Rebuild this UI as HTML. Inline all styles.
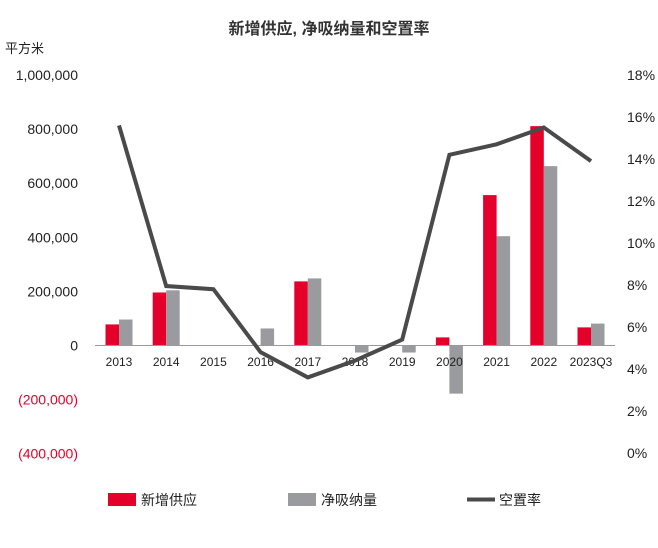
<!DOCTYPE html>
<html><head><meta charset="utf-8"><style>
body{margin:0;background:#fff;}
svg{display:block;font-family:"Liberation Sans","Noto Sans CJK SC",sans-serif;}
</style></head><body>
<svg id="chart" width="658" height="548">
<text x="329" y="34" text-anchor="middle" font-size="16" font-weight="bold" fill="#333">新增供应, 净吸纳量和空置率</text>
<text x="5" y="53" font-size="13" fill="#222">平方米</text>
<g id="bars"></g>
<line x1="95" x2="615" y1="345.5" y2="345.5" stroke="#999" stroke-width="1"/>
<g id="ticks"></g>
<polyline id="vline" fill="none" stroke="#4a4a4a" stroke-width="4" stroke-linejoin="miter"/>
<g>
<rect x="108" y="493" width="28" height="13" fill="#e4002b"/>
<text x="141" y="505" font-size="14" fill="#222">新增供应</text>
<rect x="288" y="493" width="28" height="13" fill="#999b9e"/>
<text x="321" y="505" font-size="14" fill="#222">净吸纳量</text>
<line x1="467" x2="495" y1="499.5" y2="499.5" stroke="#4a4a4a" stroke-width="4"/>
<text x="499" y="505" font-size="14" fill="#222">空置率</text>
</g>
</svg>
<script>
const categories=["2013","2014","2015","2016","2017","2018","2019","2020","2021","2022","2023Q3"];
const supply=[78000,196000,0,0,237000,0,0,30000,556000,811000,67000];
const absorption=[96000,204000,0,63000,248000,-26000,-26000,-178000,404000,663000,81000];
const vacancy=[15.6,7.95,7.8,4.8,3.6,4.4,5.4,14.2,14.7,15.5,13.9];
const leftTicks=[1000000,800000,600000,400000,200000,0,-200000,-400000];
const leftTickLabels=["1,000,000","800,000","600,000","400,000","200,000","0","(200,000)","(400,000)"];
const rightTicks=[18,16,14,12,10,8,6,4,2,0];
const rightTickLabels=["18%","16%","14%","12%","10%","8%","6%","4%","2%","0%"];
const NS="http://www.w3.org/2000/svg";
const yL=v=>345.5-v*(270.5/1000000);
const yR=v=>453-v*(378/18);
const xC=i=>119+i*47.2;
const bars=document.getElementById('bars'),ticks=document.getElementById('ticks');
function mk(tag,attrs,parent){const e=document.createElementNS(NS,tag);for(const k in attrs)e.setAttribute(k,attrs[k]);parent.appendChild(e);return e;}
categories.forEach((c,i)=>{
  if(supply[i]!==0){const y0=yL(0),y1=yL(supply[i]);
    const r=mk('rect',{x:xC(i)-13.5,y:Math.min(y0,y1),width:13.5,height:Math.abs(y1-y0),fill:'#e4002b'},bars);
    
    }
  if(absorption[i]!==0){const y0=yL(0),y1=yL(absorption[i]);
    const r=mk('rect',{x:xC(i),y:Math.min(y0,y1),width:13.5,height:Math.abs(y1-y0),fill:'#999b9e'},bars);
    
    }
  const t=mk('text',{x:xC(i),y:366,'text-anchor':'middle','font-size':12,fill:'#222'},ticks);t.textContent=c;
  
  
});
leftTicks.forEach((v,i)=>{
  const t=mk('text',{x:78,y:yL(v)+5,'text-anchor':'end','font-size':14,fill:v<0?'#e4002b':'#222'},ticks);t.textContent=leftTickLabels[i];
  
  
});
rightTicks.forEach((v,i)=>{
  const t=mk('text',{x:627,y:yR(v)+5,'font-size':14,fill:'#222'},ticks);t.textContent=rightTickLabels[i];
  
  
});
document.getElementById('vline').setAttribute('points',vacancy.map((v,i)=>xC(i)+','+yR(v)).join(' '));
</script>
</body></html>
